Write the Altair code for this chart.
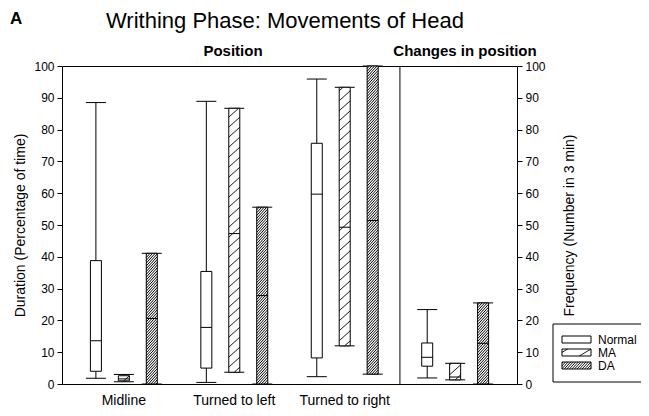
import altair as alt
import pandas as pd

# ---------------- data ----------------
groups = ["Midline", "Turned to left", "Turned to right", "Changes in position"]
group_labels = ["Midline", "Turned to left", "Turned to right"]
series = ["Normal", "MA", "DA"]

normal_low = [1.8, 0.5, 2.3, 1.9]
normal_q1 = [4.0, 5.0, 8.2, 5.6]
normal_med = [13.6, 17.8, 59.7, 8.4]
normal_q3 = [38.8, 35.4, 75.7, 12.9]
normal_high = [88.5, 88.9, 95.9, 23.4]

ma_low = [0.7, 3.7, 12.0, 1.3]
ma_q1 = [1.0, 3.7, 12.0, 1.3]
ma_med = [1.6, 47.3, 49.3, 2.2]
ma_q3 = [2.6, 86.7, 93.3, 6.5]
ma_high = [3.0, 86.7, 93.3, 6.5]

da_low = [0.0, 0.0, 3.1, 0.0]
da_q1 = [0.0, 0.0, 3.1, 0.0]
da_med = [20.6, 27.8, 51.4, 12.8]
da_q3 = [41.1, 55.6, 100.0, 25.5]
da_high = [41.1, 55.6, 100.0, 25.5]

stats = {
    "Normal": (normal_low, normal_q1, normal_med, normal_q3, normal_high),
    "MA": (ma_low, ma_q1, ma_med, ma_q3, ma_high),
    "DA": (da_low, da_q1, da_med, da_q3, da_high),
}

# ---------------- layout ----------------
W, H = 455, 318
XMIN, XMAX = -0.56, 3.56
PXX = W / (XMAX - XMIN)   # px per x unit
PXY = H / 100.0           # px per y unit
offsets = {"Normal": -0.253, "MA": 0.0, "DA": 0.253}
BOX_HALF = 5.5 / PXX
CAP_HALF = 10.0 / PXX
hatch_style = {"MA": (10.0, 0.9), "DA": (2.8, 1.1)}  # (spacing px, slope)
DIVIDER_X = 2.5

FONT = "Liberation Sans"


def hatch(w, h, spacing, slope):
    segs = []
    c = -slope * w + spacing / 2.0
    while c < h:
        u1 = max(0.0, -c / slope)
        u2 = min(w, (h - c) / slope)
        if u2 > u1:
            segs.append((u1, c + slope * u1, u2, c + slope * u2))
        c += spacing
    return segs


def px2x(px):
    return XMIN + px / PXX


def py2y(py):
    return (H - py) / PXY


rows, whisk, caps, hrows = [], [], [], []
for s in series:
    lo, q1, md, q3, hi = stats[s]
    for g in range(len(groups)):
        xc = g + offsets[s]
        rows.append(dict(series=s, xc=xc, xl=xc - BOX_HALF, xr=xc + BOX_HALF,
                         q1=q1[g], med=md[g], q3=q3[g]))
        whisk.append(dict(xc=xc, y=lo[g], y2=q1[g]))
        whisk.append(dict(xc=xc, y=q3[g], y2=hi[g]))
        caps.append(dict(xl=xc - CAP_HALF, xr=xc + CAP_HALF, y=lo[g]))
        caps.append(dict(xl=xc - CAP_HALF, xr=xc + CAP_HALF, y=hi[g]))
        if s in hatch_style:
            sp, sl = hatch_style[s]
            for (u1, v1, u2, v2) in hatch(11.0, (q3[g] - q1[g]) * PXY, sp, sl):
                hrows.append(dict(x=xc - BOX_HALF + u1 / PXX, y=q1[g] + v1 / PXY,
                                  x2=xc - BOX_HALF + u2 / PXX, y2=q1[g] + v2 / PXY,
                                  sw=1.0 if s == "DA" else 0.9))

box_df = pd.DataFrame(rows)
whisk_df = pd.DataFrame(whisk)
cap_df = pd.DataFrame(caps)
hatch_df = pd.DataFrame(hrows)
label_df = pd.DataFrame({"g": list(range(len(group_labels))), "name": group_labels})

yscale = alt.Scale(domain=[0, 100], nice=False, zero=False)
xscale = alt.Scale(domain=[XMIN, XMAX], nice=False, zero=False)
noax = None

left_axis = alt.Axis(orient="left", values=list(range(0, 101, 10)), title="Duration (Percentage of time)",
                     tickSize=5, labelPadding=3, titlePadding=6)
right_axis = alt.Axis(orient="right", values=list(range(0, 101, 10)), title="Frequency (Number in 3 min)",
                      tickSize=5, labelPadding=3, titlePadding=17, titleAngle=270, titleBaseline="top")

whiskers = alt.Chart(whisk_df).mark_rule(color="black", strokeWidth=1).encode(
    x=alt.X("xc:Q", scale=xscale, axis=noax),
    y=alt.Y("y:Q", scale=yscale, axis=left_axis), y2="y2:Q")

capsl = alt.Chart(cap_df).mark_rule(color="black", strokeWidth=1).encode(
    x=alt.X("xl:Q", scale=xscale, axis=noax), x2="xr:Q",
    y=alt.Y("y:Q", scale=yscale, axis=left_axis))

boxes = alt.Chart(box_df).mark_rect(fill="white", stroke="black", strokeWidth=1).encode(
    x=alt.X("xl:Q", scale=xscale, axis=noax), x2="xr:Q",
    y=alt.Y("q1:Q", scale=yscale, axis=left_axis), y2="q3:Q")

hatches = alt.Chart(hatch_df).mark_rule(color="black").encode(
    x=alt.X("x:Q", scale=xscale, axis=noax), x2="x2:Q",
    y=alt.Y("y:Q", scale=yscale, axis=left_axis), y2="y2:Q",
    strokeWidth=alt.StrokeWidth("sw:Q", scale=None))

medians = alt.Chart(box_df).mark_rule(color="black", strokeWidth=1).encode(
    x=alt.X("xl:Q", scale=xscale, axis=noax), x2="xr:Q",
    y=alt.Y("med:Q", scale=yscale, axis=left_axis))

xlabels = alt.Chart(label_df).mark_text(fontSize=14, font=FONT, baseline="alphabetic", color="black").encode(
    x=alt.X("g:Q", scale=xscale, axis=noax), y=alt.value(339), text="name:N")

ann = pd.DataFrame({
    "t": ["A", "Writhing Phase: Movements of Head", "Position", "Changes in position"],
})
t_A = alt.Chart(ann.iloc[[0]]).mark_text(fontSize=17, fontWeight="bold", font=FONT, align="left",
                                          baseline="alphabetic").encode(
    x=alt.value(-52), y=alt.value(-42), text="t:N")
t_title = alt.Chart(ann.iloc[[1]]).mark_text(fontSize=22, font=FONT, align="left",
                                              baseline="alphabetic").encode(
    x=alt.value(44), y=alt.value(-38), text="t:N")
t_pos = alt.Chart(ann.iloc[[2]]).mark_text(fontSize=15, fontWeight="bold", font=FONT,
                                            baseline="alphabetic").encode(
    x=alt.value(171), y=alt.value(-10), text="t:N")
t_chg = alt.Chart(ann.iloc[[3]]).mark_text(fontSize=15, fontWeight="bold", font=FONT,
                                            baseline="alphabetic").encode(
    x=alt.value(403), y=alt.value(-10), text="t:N")

# ---------------- legend (hand-drawn, positions in plot pixels) ----------------
leg_frame = alt.Chart(pd.DataFrame({"v": [0]})).mark_rect(fill="white", stroke="black", strokeWidth=1).encode(
    x=alt.value(491), x2=alt.value(600), y=alt.value(258), y2=alt.value(316))
sw_top = {"Normal": 270, "MA": 283, "DA": 296}
sw_rows, sw_hatch = [], []
for s in series:
    sw_rows.append(dict(series=s, x=px2x(500), x2=px2x(529), y=py2y(sw_top[s] + 7), y2=py2y(sw_top[s]),
                        ty=py2y(sw_top[s] + 7.5)))
    if s in hatch_style:
        sp, sl = hatch_style[s]
        if s == "MA":
            sp, sl = 14.0, 0.6
        for (u1, v1, u2, v2) in hatch(29.0, 7.0, sp, sl):
            sw_hatch.append(dict(x=px2x(500 + u1), x2=px2x(500 + u2),
                                 y=py2y(sw_top[s] + 7 - v1), y2=py2y(sw_top[s] + 7 - v2)))
sw_df = pd.DataFrame(sw_rows)
swh_df = pd.DataFrame(sw_hatch)
swatches = alt.Chart(sw_df).mark_rect(fill="white", stroke="black", strokeWidth=1).encode(
    x=alt.X("x:Q", scale=xscale, axis=noax), x2="x2:Q",
    y=alt.Y("y:Q", scale=yscale, axis=left_axis), y2="y2:Q")
swatch_h = alt.Chart(swh_df).mark_rule(color="black", strokeWidth=0.9).encode(
    x=alt.X("x:Q", scale=xscale, axis=noax), x2="x2:Q",
    y=alt.Y("y:Q", scale=yscale, axis=left_axis), y2="y2:Q")
sw_text = alt.Chart(sw_df).mark_text(fontSize=12, font=FONT, align="left", baseline="alphabetic").encode(
    x=alt.value(536), y=alt.Y("ty:Q", scale=yscale, axis=left_axis), text="series:N")

inner = alt.layer(
    whiskers, capsl, boxes, hatches, medians, xlabels,
    t_A, t_title, t_pos, t_chg, leg_frame, swatches, swatch_h, sw_text
)

div_df = pd.DataFrame({"x": [DIVIDER_X], "y0": [0.0], "y1": [100.0]})
divider = alt.Chart(div_df).mark_rule(color="black", strokeWidth=1).encode(
    x=alt.X("x:Q", scale=xscale, axis=noax),
    y=alt.Y("y0:Q", scale=yscale, axis=right_axis), y2="y1:Q")

chart = alt.layer(inner, divider).resolve_scale(y="independent").properties(
    width=W, height=H,
    autosize=alt.AutoSizeParams(type="none"),
    padding={"left": 54, "top": 58, "right": 124, "bottom": 24},
).configure_view(stroke="black", strokeWidth=1).configure_axis(
    domain=False, grid=False, tickColor="black", labelColor="black", titleColor="black",
    labelFont=FONT, titleFont=FONT, labelFontSize=12, titleFontSize=14, titleFontWeight="normal",
).configure_text(font=FONT, color="black")

chart.save("out.html", embed_options={"renderer": "svg", "actions": False})
